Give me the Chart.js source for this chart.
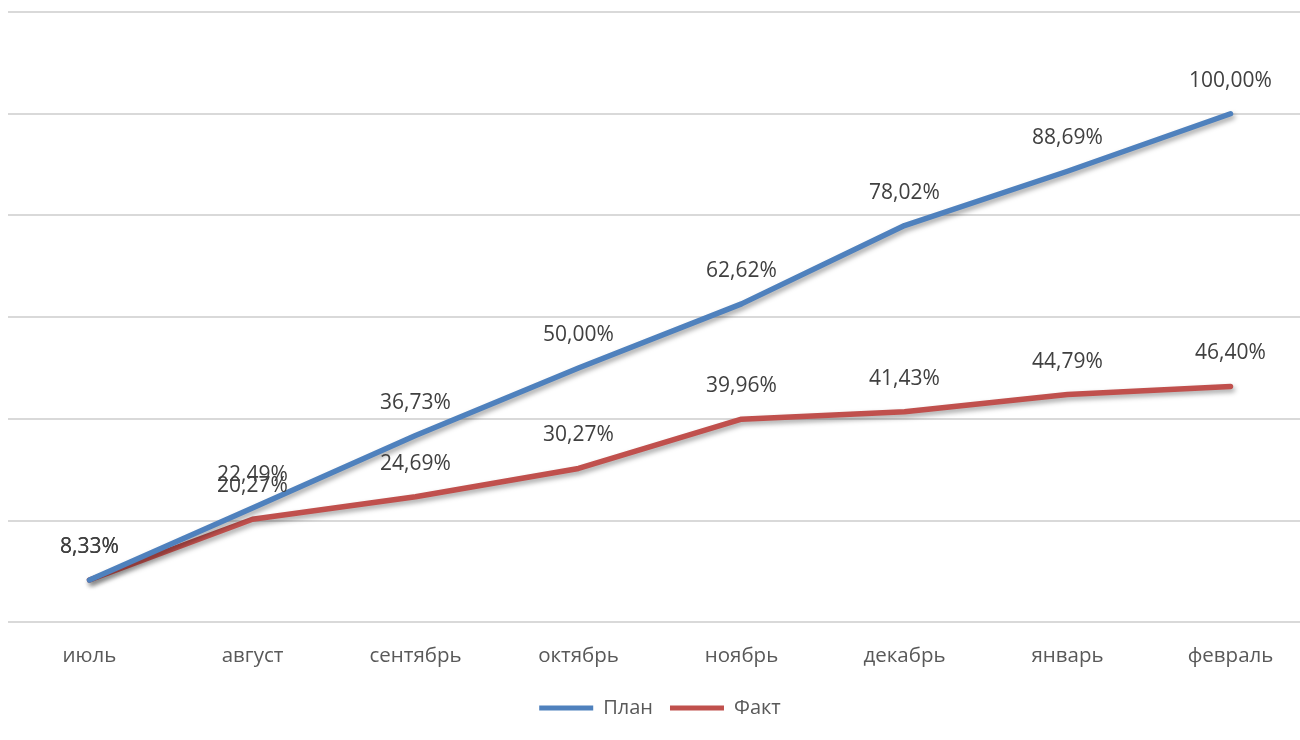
<!DOCTYPE html>
<html><head><meta charset="utf-8">
<script src="https://cdn.jsdelivr.net/npm/chart.js@4"></script>
<style>html,body{margin:0;padding:0;background:#fff;overflow:hidden}#wrap{width:1312px;height:740px}</style>
</head><body><div id="wrap"><canvas id="c"></canvas></div>
<script>
const categories = ['июль','август','сентябрь','октябрь','ноябрь','декабрь','январь','февраль'];
const planValues = [8.33, 22.49, 36.73, 50.00, 62.62, 78.02, 88.69, 100.00];
const factValues = [8.33, 20.27, 24.69, 30.27, 39.96, 41.43, 44.79, 46.40];
const seriesNames = ['План','Факт'];
const FONT = "'Open Sans', 'Noto Sans', sans-serif";

const shadowPlugin = {
  id: 'shadow',
  beforeDatasetDraw(chart) {
    const ctx = chart.ctx; ctx.save();
    ctx.shadowColor = 'rgba(0,0,0,0.35)'; ctx.shadowBlur = 5; ctx.shadowOffsetX = 2; ctx.shadowOffsetY = 3;
  },
  afterDatasetDraw(chart) { chart.ctx.restore(); }
};
const labelPlugin = {
  id: 'vlabels',
  afterDatasetsDraw(chart) {
    const ctx = chart.ctx; ctx.save();
    ctx.font = '21px ' + FONT; ctx.fillStyle = '#404040'; ctx.textAlign = 'center'; ctx.textBaseline = 'middle';
    chart.data.datasets.forEach((ds, i) => {
      chart.getDatasetMeta(i).data.forEach((pt, j) => {
        ctx.fillText(ds.data[j].toFixed(2).replace('.', ',') + '%', pt.x, pt.y - 33);
      });
    });
    ctx.restore();
  }
};

new Chart(document.getElementById('c'), {
  type: 'line',
  data: {
    labels: categories,
    datasets: [
      { label: seriesNames[0], data: planValues, borderColor: '#4f81bd', backgroundColor: '#4f81bd', borderWidth: 5.5, pointRadius: 0, tension: 0, borderCapStyle: 'round', borderJoinStyle: 'round' },
      { label: seriesNames[1], data: factValues, borderColor: '#c0504d', backgroundColor: '#c0504d', borderWidth: 5.5, pointRadius: 0, tension: 0, borderCapStyle: 'round', borderJoinStyle: 'round' }
    ]
  },
  options: {
    responsive: true, maintainAspectRatio: false, animation: false,
    layout: { padding: { top: 12, left: 8, right: 0, bottom: 12 } },
    scales: {
      x: { offset: true, grid: { display: false }, border: { display: false },
           ticks: { color: '#595959', font: { size: 20.5, family: FONT }, padding: 13 } },
      y: { min: 0, max: 120, ticks: { display: false, stepSize: 20 },
           grid: { color: '#d9d9d9', lineWidth: 2, drawTicks: false }, border: { display: false } }
    },
    plugins: {
      tooltip: { enabled: false },
      legend: { position: 'bottom',
        labels: { color: '#595959', font: { size: 20, family: FONT }, boxWidth: 54, boxHeight: 5, useBorderRadius: true, borderRadius: 2.5, padding: 17,
          generateLabels(chart) {
            return chart.data.datasets.map((ds, i) => ({ text: ds.label, fillStyle: ds.borderColor, strokeStyle: ds.borderColor, lineWidth: 0, datasetIndex: i, fontColor: '#595959' }));
          } } }
    }
  },
  plugins: [shadowPlugin, labelPlugin]
});
</script></body></html>
